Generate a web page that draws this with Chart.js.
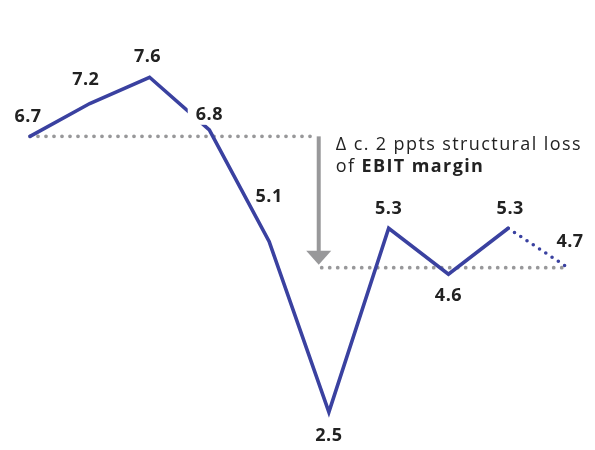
<!DOCTYPE html>
<html>
<head>
<meta charset="utf-8">
<script src="https://cdn.jsdelivr.net/npm/chart.js@4/dist/chart.umd.min.js"></script>
<style>
    html, body { margin: 0; background: #fff; }
    #wrap { width: 595px; height: 450px; }
</style>
</head>
<body>
<div id="wrap"><canvas id="marginChart"></canvas></div>
<script>
// EBIT margin, %
const periods = ["2015", "2016", "2017", "2018", "2019", "2020", "2021", "2022", "2023", "2024e"];
const ebitMargin = [6.7, 7.2, 7.6, 6.8, 5.1, 2.5, 5.3, 4.6, 5.3, 4.7];
const forecastFrom = 8;          // segments starting here are drawn dotted
const levelBefore = 6.7;         // margin level before the drop
const levelAfter = 4.7;          // structural level afterwards
const gapPosition = 4.83;        // x position (in periods) of the drop arrow

const lineColor = "#3a41a0";
const refColor = "#98989a";
const textColor = "#222";
const fontFamily = "'Open Sans'";

// label placement around each point: [dx, dy] in px
const labelOffsets = [[-2, -19], [-4, -24], [-2, -20], [0, -15], [0, -45], [0, 24], [0, -19], [0, 22], [2, -19], [2, -26]];
const maskedLabels = [3];        // labels that sit on a white box over the line

const dottedLine = (ctx, x1, x2, y) => {
    ctx.save();
    ctx.strokeStyle = refColor;
    ctx.lineWidth = 3.8;
    ctx.lineCap = "round";
    ctx.setLineDash([0, 8]);
    ctx.beginPath();
    ctx.moveTo(x1, y);
    ctx.lineTo(x2, y);
    ctx.stroke();
    ctx.restore();
};

const referencePlugin = {
    id: "reference",
    beforeDatasetsDraw(chart) {
        const { ctx, scales: { x, y } } = chart;
        const yBefore = y.getPixelForValue(levelBefore);
        const yAfter = y.getPixelForValue(levelAfter);
        const ax = x.getPixelForValue(gapPosition);

        dottedLine(ctx, x.getPixelForValue(0), ax - 2, yBefore);
        dottedLine(ctx, ax + 3, x.getPixelForValue(ebitMargin.length - 1), yAfter);

        // drop arrow
        const tip = yAfter - 3;
        ctx.save();
        ctx.fillStyle = refColor;
        ctx.fillRect(ax - 2, yBefore, 4, tip - 13 - yBefore);
        ctx.beginPath();
        ctx.moveTo(ax - 12.5, tip - 14);
        ctx.lineTo(ax + 12.5, tip - 14);
        ctx.lineTo(ax, tip);
        ctx.closePath();
        ctx.fill();

        // note next to the arrow, set a little wide
        ctx.fillStyle = textColor;
        ctx.textBaseline = "alphabetic";
        ctx.textAlign = "left";
        ctx.letterSpacing = "1.4px";
        ctx.font = "18px " + fontFamily;
        const tx = ax + 17;
        ctx.fillText("\u0394 c. 2 ppts structural loss", tx, yBefore + 14);
        ctx.fillText("of ", tx, yBefore + 36);
        const w = ctx.measureText("of ").width;
        ctx.font = "bold 18px " + fontFamily;
        ctx.fillText("EBIT margin", tx + w, yBefore + 36);
        ctx.restore();
    },
    afterDatasetsDraw(chart) {
        const { ctx } = chart;
        const points = chart.getDatasetMeta(0).data;
        ctx.save();
        ctx.font = "bold 18px " + fontFamily;
        ctx.letterSpacing = "0.5px";
        ctx.textAlign = "center";
        ctx.textBaseline = "middle";
        points.forEach((pt, i) => {
            const lx = pt.x + labelOffsets[i][0];
            const ly = pt.y + labelOffsets[i][1];
            const text = ebitMargin[i].toFixed(1);
            if (maskedLabels.includes(i)) {
                const w = ctx.measureText(text).width;
                ctx.fillStyle = "#fff";
                ctx.fillRect(lx - w / 2 - 8, ly - 11, w + 12, 21);
            }
            ctx.fillStyle = textColor;
            ctx.fillText(text, lx, ly);
        });
        ctx.restore();
    },
};

new Chart(document.getElementById("marginChart"), {
    type: "line",
    data: {
        labels: periods,
        datasets: [
            {
                data: ebitMargin,
                borderColor: lineColor,
                borderWidth: 3.6,
                borderJoinStyle: "miter",
                borderCapStyle: "round",
                pointRadius: 0,
                tension: 0,
                clip: false,
                segment: {
                    borderDash: (c) => (c.p0DataIndex >= forecastFrom ? [0, 7.5] : undefined),
                },
            },
        ],
    },
    options: {
        responsive: true,
        maintainAspectRatio: false,
        animation: false,
        layout: {
            padding: { left: 30, right: 27, top: 51, bottom: 5 },
        },
        plugins: {
            legend: { display: false },
            tooltip: { enabled: false },
        },
        scales: {
            x: { display: false, offset: false },
            y: { display: false, min: 2, max: 8 },
        },
    },
    plugins: [referencePlugin],
});
</script>
</body>
</html>
